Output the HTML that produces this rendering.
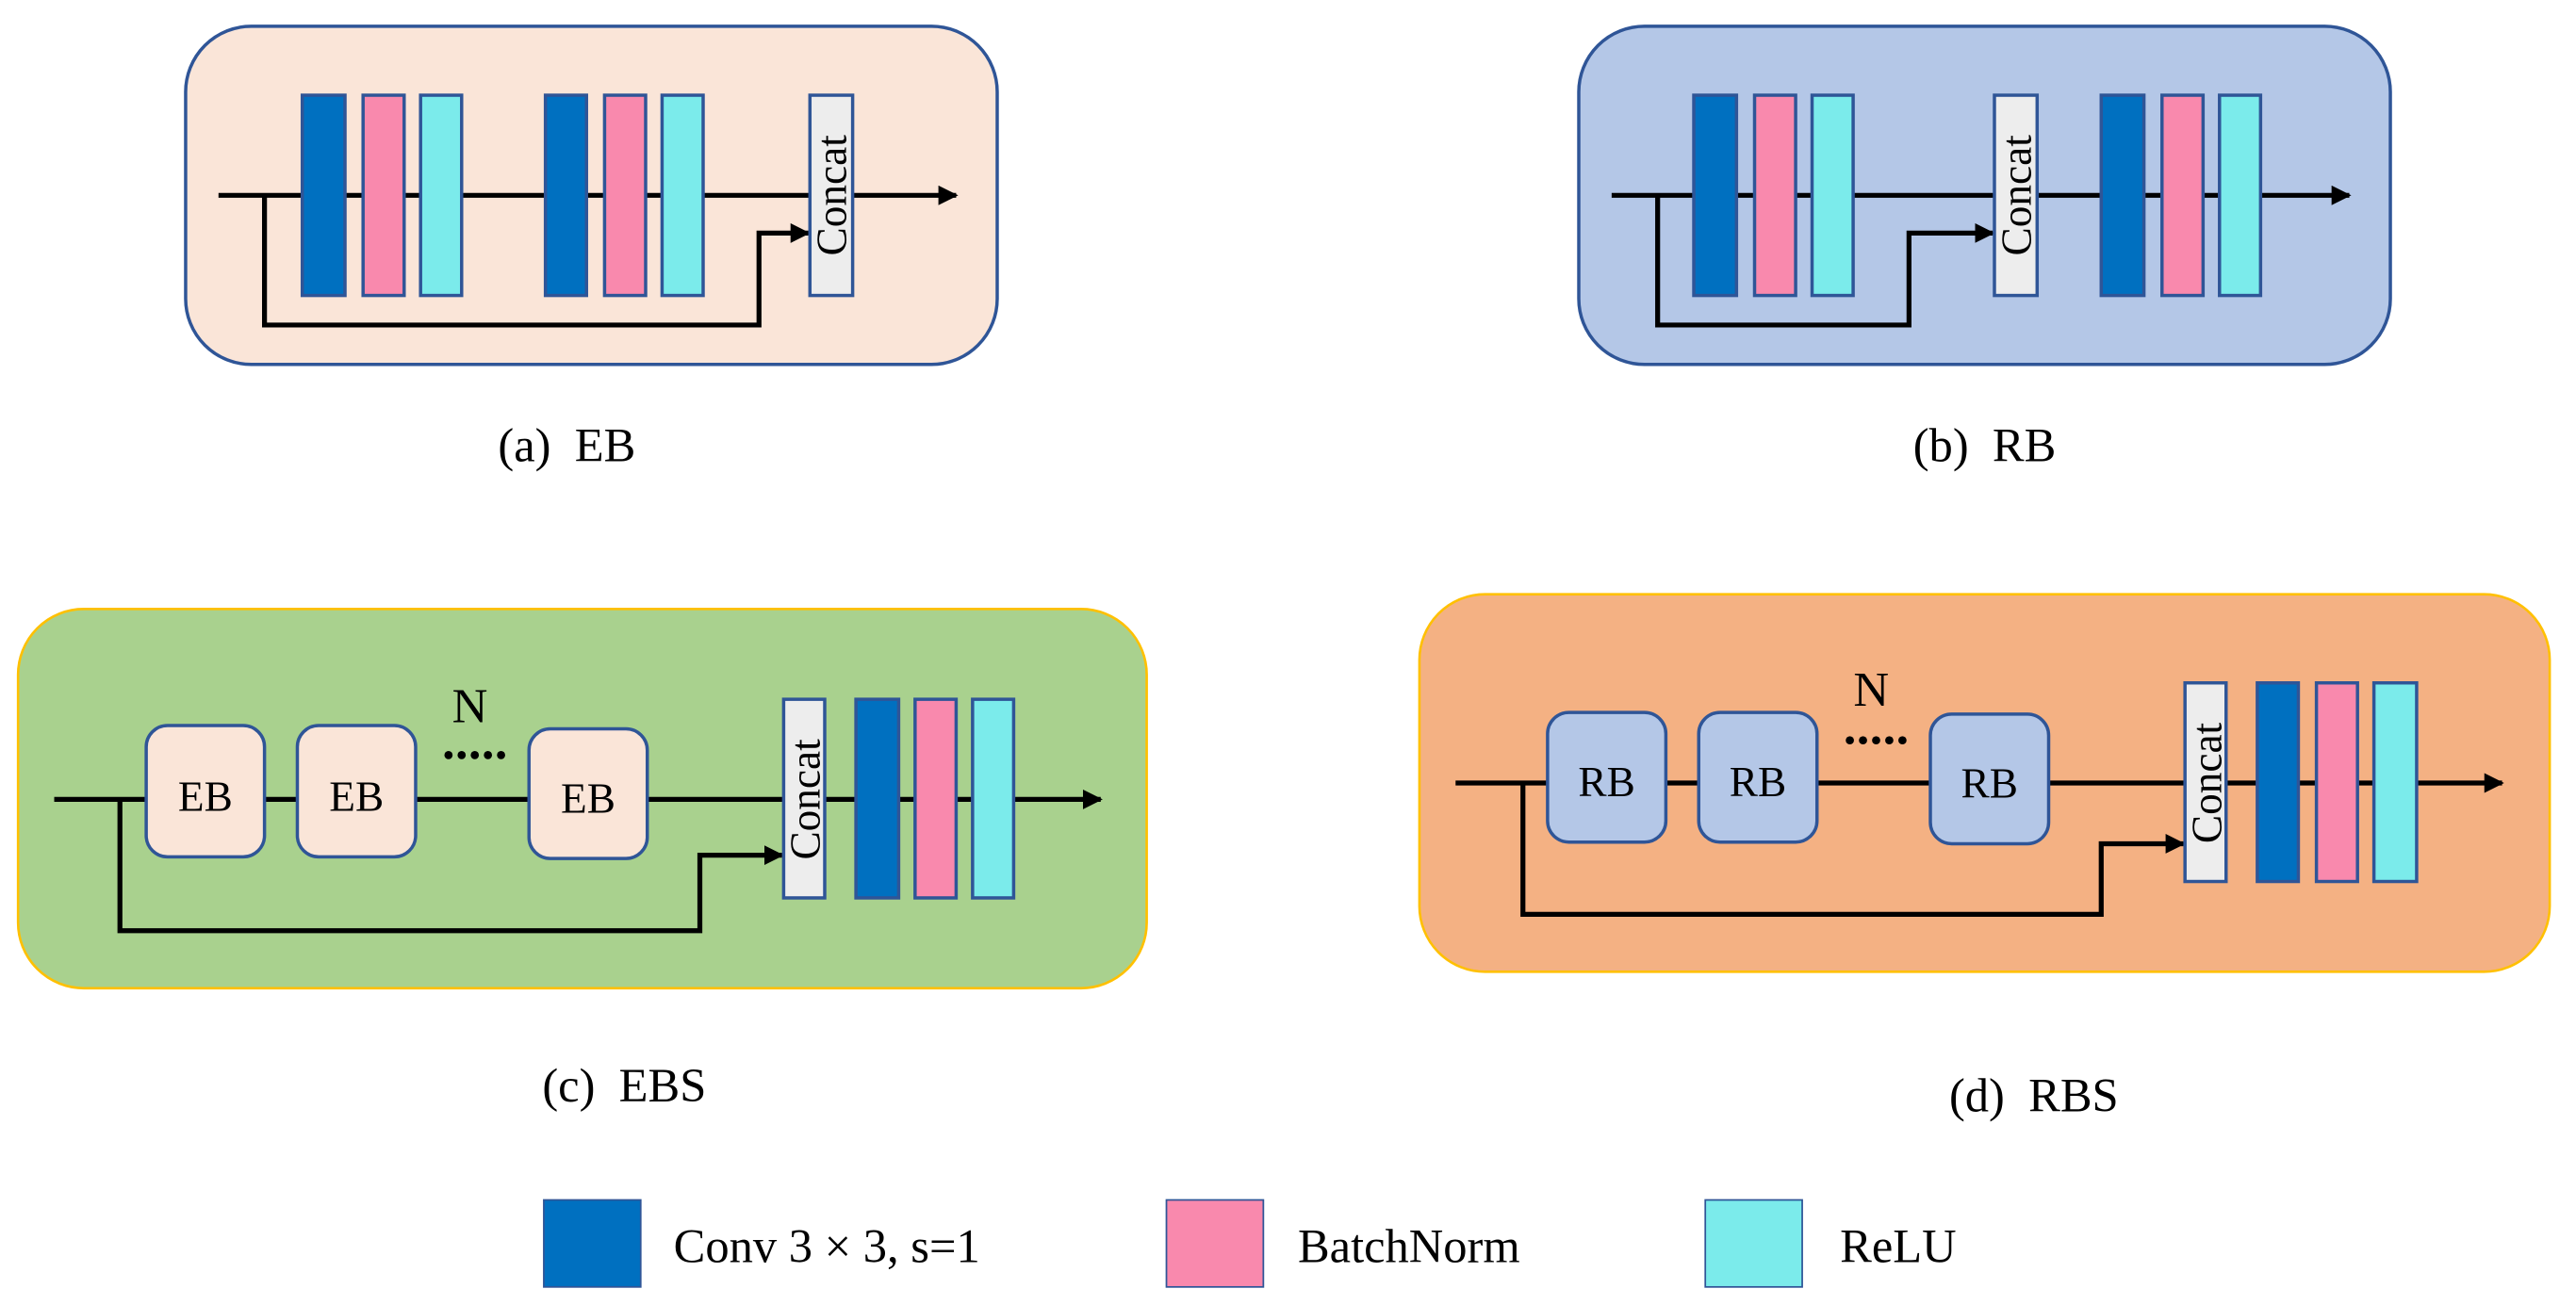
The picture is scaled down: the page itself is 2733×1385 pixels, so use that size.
<!DOCTYPE html>
<html><head><meta charset="utf-8"><style>
html,body{margin:0;padding:0;background:#fff;width:2733px;height:1385px;overflow:hidden}
svg{display:block}
text{font-family:"Liberation Serif",serif;fill:#000}
</style></head><body>
<svg width="2733" height="1385" viewBox="0 0 1568 795" preserveAspectRatio="none" xmlns="http://www.w3.org/2000/svg">
<defs>
<marker id="ar" viewBox="0 0 10 10" refX="9" refY="5" markerWidth="4" markerHeight="4" orient="auto" markerUnits="strokeWidth"><path d="M0,0 L10,5 L0,10 z" fill="#000"/></marker>
</defs>
<g stroke="#2F5597" stroke-width="2">
<rect x="113" y="16" width="494" height="206" rx="40" fill="#FAE5D8"/>
<rect x="961" y="16" width="494" height="206" rx="40" fill="#B4C7E7"/>
</g>
<g stroke="#FFC000" stroke-width="1.5">
<rect x="11" y="371" width="687" height="231" rx="40" fill="#A9D18E"/>
<rect x="864" y="362" width="688" height="230" rx="40" fill="#F4B183"/>
</g>
<g stroke="#000" stroke-width="3" fill="none">
<line x1="133" y1="119" x2="582" y2="119" marker-end="url(#ar)"/>
<polyline points="161,119 161,198 462,198 462,142 492,142" marker-end="url(#ar)"/>
<line x1="981" y1="119" x2="1430" y2="119" marker-end="url(#ar)"/>
<polyline points="1009,119 1009,198 1162,198 1162,142 1213,142" marker-end="url(#ar)"/>
<line x1="33" y1="487" x2="670" y2="487" marker-end="url(#ar)"/>
<polyline points="73,487 73,567 426,567 426,521 476,521" marker-end="url(#ar)"/>
<line x1="886" y1="477" x2="1523" y2="477" marker-end="url(#ar)"/>
<polyline points="927,477 927,557 1279,557 1279,514 1329,514" marker-end="url(#ar)"/>
</g>
<g stroke="#2F5597" stroke-width="2">
<rect x="184" y="58" width="26" height="122" fill="#0070C0"/>
<rect x="221" y="58" width="25" height="122" fill="#F989AD"/>
<rect x="256" y="58" width="25" height="122" fill="#7BEBEB"/>
<rect x="332" y="58" width="25" height="122" fill="#0070C0"/>
<rect x="368" y="58" width="25" height="122" fill="#F989AD"/>
<rect x="403" y="58" width="25" height="122" fill="#7BEBEB"/>
<rect x="493" y="58" width="26" height="122" fill="#EDEDED"/>
<rect x="1031" y="58" width="26" height="122" fill="#0070C0"/>
<rect x="1068" y="58" width="25" height="122" fill="#F989AD"/>
<rect x="1103" y="58" width="25" height="122" fill="#7BEBEB"/>
<rect x="1214" y="58" width="26" height="122" fill="#EDEDED"/>
<rect x="1279" y="58" width="26" height="122" fill="#0070C0"/>
<rect x="1316" y="58" width="25" height="122" fill="#F989AD"/>
<rect x="1351" y="58" width="25" height="122" fill="#7BEBEB"/>
<rect x="89" y="442" width="72" height="80" rx="13" fill="#FAE5D8"/>
<rect x="181" y="442" width="72" height="80" rx="13" fill="#FAE5D8"/>
<rect x="322" y="444" width="72" height="79" rx="13" fill="#FAE5D8"/>
<rect x="477" y="426" width="25" height="121" fill="#EDEDED"/>
<rect x="521" y="426" width="26" height="121" fill="#0070C0"/>
<rect x="557" y="426" width="25" height="121" fill="#F989AD"/>
<rect x="592" y="426" width="25" height="121" fill="#7BEBEB"/>
<rect x="942" y="434" width="72" height="79" rx="13" fill="#B4C7E7"/>
<rect x="1034" y="434" width="72" height="79" rx="13" fill="#B4C7E7"/>
<rect x="1175" y="435" width="72" height="79" rx="13" fill="#B4C7E7"/>
<rect x="1330" y="416" width="25" height="121" fill="#EDEDED"/>
<rect x="1374" y="416" width="25" height="121" fill="#0070C0"/>
<rect x="1410" y="416" width="25" height="121" fill="#F989AD"/>
<rect x="1445" y="416" width="26" height="121" fill="#7BEBEB"/>
</g>
<g font-size="26" text-anchor="middle">
<text transform="translate(515,119) rotate(-90)">Concat</text>
<text transform="translate(1236,119) rotate(-90)">Concat</text>
<text transform="translate(499,487) rotate(-90)">Concat</text>
<text transform="translate(1352,477) rotate(-90)">Concat</text>
</g>
<g font-size="26" text-anchor="middle">
<text x="125" y="494">EB</text>
<text x="217" y="494">EB</text>
<text x="358" y="495">EB</text>
<text x="978" y="485">RB</text>
<text x="1070" y="485">RB</text>
<text x="1211" y="486">RB</text>
</g>
<g font-size="30" text-anchor="middle">
<text x="286" y="440">N</text>
<text x="1139" y="430">N</text>
</g>
<g fill="#000">
<circle cx="273" cy="460" r="2.5"/><circle cx="281" cy="460" r="2.5"/><circle cx="289" cy="460" r="2.5"/><circle cx="297" cy="460" r="2.5"/><circle cx="305" cy="460" r="2.5"/>
<circle cx="1126" cy="451" r="2.5"/><circle cx="1134" cy="451" r="2.5"/><circle cx="1142" cy="451" r="2.5"/><circle cx="1150" cy="451" r="2.5"/><circle cx="1158" cy="451" r="2.5"/>
</g>
<g font-size="29" text-anchor="middle">
<text x="345" y="281" xml:space="preserve">(a)  EB</text>
<text x="1208" y="281" xml:space="preserve">(b)  RB</text>
<text x="380" y="671" xml:space="preserve">(c)  EBS</text>
<text x="1238" y="677" xml:space="preserve">(d)  RBS</text>
</g>
<rect x="331" y="731" width="59" height="53" fill="#0070C0" stroke="#2F5597" stroke-width="1"/>
<rect x="710" y="731" width="59" height="53" fill="#F989AD" stroke="#2F5597" stroke-width="1"/>
<rect x="1038" y="731" width="59" height="53" fill="#7BEBEB" stroke="#2F5597" stroke-width="1"/>
<g font-size="29">
<text x="410" y="769">Conv 3 × 3, s=1</text>
<text x="790" y="769">BatchNorm</text>
<text x="1120" y="769">ReLU</text>
</g>
</svg>
</body></html>
